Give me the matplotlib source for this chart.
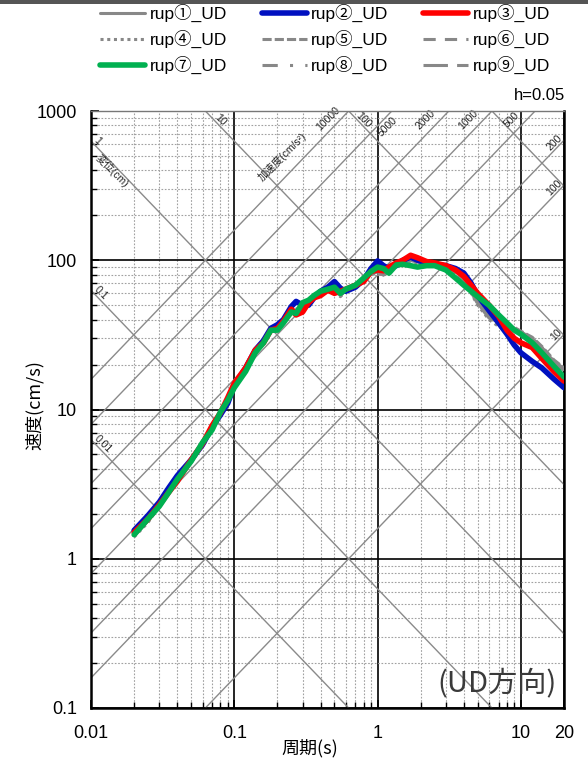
import numpy as np
import matplotlib
matplotlib.use("Agg")
import matplotlib.pyplot as plt
from matplotlib.ticker import LogLocator, NullFormatter, FixedLocator, FixedFormatter
from matplotlib.patches import Rectangle

plt.rcParams['font.family'] = ['Liberation Sans', 'Noto Sans CJK JP', 'DejaVu Sans']

# periods (s)
periods = [0.02, 0.025, 0.03, 0.035, 0.04, 0.05, 0.06, 0.07, 0.08, 0.09,
           0.1, 0.12, 0.14, 0.16, 0.18, 0.2, 0.22, 0.25, 0.27, 0.3,
           0.33, 0.36, 0.4, 0.45, 0.5, 0.55, 0.6, 0.7, 0.8, 0.9,
           1.0, 1.1, 1.2, 1.35, 1.5, 1.7, 1.9, 2.2, 2.5, 3.0,
           3.5, 4.0, 4.5, 5.0, 6.0, 7.0, 8.0, 9.0, 10, 12,
           14, 17, 20]

# pseudo velocity response (cm/s), h=0.05
rup1 = [1.45, 1.8, 2.3, 2.85, 3.4, 4.5, 5.9, 7.5, 9.4, 11.5,
        14.5, 19, 25, 29, 35, 36, 39, 47, 46, 48,
        52, 57, 60, 64, 63, 58, 63, 66, 73, 82,
        84, 80, 86, 94, 97, 100, 98, 96, 94, 90,
        84, 74, 62, 52, 42, 38, 37, 35, 33, 30,
        26, 21, 18.5]
rup2 = [1.55, 1.95, 2.4, 3.0, 3.6, 4.6, 5.8, 7.6, 9.2, 11,
        14.5, 19, 25, 29, 35, 37, 40, 49, 53, 50,
        50, 56, 62, 66, 72, 65, 62, 66, 74, 88,
        99, 92, 88, 92, 100, 105, 100, 96, 94, 92,
        88, 82, 70, 58, 46, 38, 32, 27, 24, 21,
        19, 16, 14]
rup3 = [1.5, 1.85, 2.3, 2.8, 3.3, 4.6, 5.9, 7.8, 9.5, 12,
        15, 19, 25, 28, 34, 35, 39, 47, 43, 45,
        52, 56, 58, 63, 60, 62, 64, 68, 72, 84,
        86, 85, 90, 96, 100, 108, 104, 98, 96, 92,
        86, 78, 68, 60, 50, 42, 34, 30, 28, 26,
        22, 18, 15.5]
rup4 = [1.4, 1.75, 2.25, 2.8, 3.35, 4.4, 5.8, 7.4, 9.3, 11.3,
        14, 18.5, 24, 28, 34, 35, 38, 46, 45, 47,
        51, 56, 59, 63, 62, 57, 62, 65, 72, 80,
        82, 79, 85, 92, 95, 98, 96, 95, 93, 89,
        82, 72, 60, 50, 40, 36, 36, 34, 32, 29,
        25, 20.5, 18]
rup5 = [1.5, 1.85, 2.35, 2.9, 3.45, 4.55, 6.0, 7.6, 9.5, 11.6,
        14.6, 19.2, 25.5, 29.5, 35.5, 36.5, 40, 48, 47, 49,
        53, 58, 61, 65, 64, 59, 64, 67, 74, 83,
        86, 82, 88, 95, 98, 101, 99, 97, 95, 91,
        85, 75, 63, 53, 43, 39, 37, 35.5, 33.5, 30.5,
        26.5, 21.5, 19]
rup6 = [1.42, 1.78, 2.28, 2.82, 3.38, 4.45, 5.85, 7.45, 9.35, 11.4,
        14.3, 18.8, 24.5, 28.5, 34.5, 35.5, 38.5, 46.5, 45.5, 47.5,
        51.5, 56.5, 59.5, 63.5, 62.5, 57.5, 62.5, 65.5, 72.5, 81,
        83, 79.5, 85.5, 93, 96, 99, 97, 95.5, 93.5, 89.5,
        83, 73, 61, 51, 41, 37, 36.5, 34.5, 32.5, 29.5,
        25.5, 21, 18.2]
rup7 = [1.45, 1.85, 2.25, 2.8, 3.4, 4.5, 6.0, 7.3, 9.6, 11.5,
        14.0, 18, 24, 28, 34, 34, 38, 45, 44, 52,
        54, 58, 62, 64, 66, 60, 64, 68, 76, 84,
        90, 88, 82, 93, 94, 92, 90, 92, 92, 86,
        76, 68, 62, 57, 50, 43, 38, 34, 32, 28,
        24, 19.5, 16.5]
rup8 = [1.47, 1.82, 2.32, 2.87, 3.42, 4.52, 5.95, 7.55, 9.45, 11.55,
        14.5, 19.1, 25.2, 29.2, 35.2, 36.2, 39.5, 47.5, 46.5, 48.5,
        52.5, 57.5, 60.5, 64.5, 63.5, 58.5, 63.5, 66.5, 73.5, 82.5,
        85, 81, 87, 94.5, 97.5, 100.5, 98.5, 96.5, 94.5, 90.5,
        84.5, 74.5, 62.5, 52.5, 42.5, 38.5, 37, 35, 33, 30,
        26, 21.2, 18.7]
rup9 = [1.44, 1.79, 2.29, 2.84, 3.39, 4.48, 5.88, 7.48, 9.38, 11.45,
        14.4, 18.9, 24.8, 28.8, 34.8, 35.8, 38.8, 46.8, 45.8, 47.8,
        51.8, 56.8, 59.8, 63.8, 62.8, 57.8, 62.8, 65.8, 72.8, 81.5,
        83.5, 80, 86, 93.5, 96.5, 99.5, 97.5, 95.8, 93.8, 89.8,
        83.5, 73.5, 61.5, 51.5, 41.5, 37.5, 36.8, 34.8, 32.8, 29.8,
        25.8, 20.8, 18.3]

series = [rup1, rup2, rup3, rup4, rup5, rup6, rup7, rup8, rup9]
labels = ['rup①_UD', 'rup②_UD', 'rup③_UD', 'rup④_UD', 'rup⑤_UD',
          'rup⑥_UD', 'rup⑦_UD', 'rup⑧_UD', 'rup⑨_UD']

gray = '#888888'
styles = [
    dict(color=gray, lw=2.2, ls='-', zorder=3),
    dict(color='#0010c0', lw=4, ls='-', zorder=4),
    dict(color='#ff0000', lw=4, ls='-', zorder=5),
    dict(color=gray, lw=2.2, ls=(0, (1, 1.2)), zorder=3),
    dict(color=gray, lw=2.2, ls=(0, (3, 1)), zorder=3),
    dict(color=gray, lw=2.2, ls=(0, (4, 3)), zorder=3),
    dict(color='#00b050', lw=4, ls='-', zorder=6),
    dict(color=gray, lw=2.2, ls=(0, (5, 4, 1, 4)), zorder=3),
    dict(color=gray, lw=2.2, ls=(0, (8, 3)), zorder=3),
]

# tripartite guide lines
disp_levels = [0.01, 0.1, 1, 10, 100, 1000]        # cm
acc_levels = [10, 100, 200, 500, 1000, 2000, 5000, 10000]   # cm/s2
disp_left_labels = ['0.01', '0.1', '1']
disp_top_labels = ['10', '100']
acc_top_labels = ['10000', '5000', '2000', '1000', '500']
acc_top_offset = [(-5, 5), (7, -1), (-7, 4), (-7, 4), (-7, 4)]
acc_right_labels = ['200', '100', '10']

fig = plt.figure(figsize=(5.88, 7.62), dpi=100)
ax = fig.add_axes([91/588, 1-708/762, 473/588, 597/762])
ax.set_xscale('log')
ax.set_yscale('log')
ax.set_xlim(0.01, 20)
ax.set_ylim(0.1, 1000)

tt = np.geomspace(0.005, 40, 200)
for d in disp_levels:
    ax.plot(tt, 2*np.pi*d/tt, color='#8a8a8a', lw=1.0, zorder=1)
for a in acc_levels:
    ax.plot(tt, a*tt/(2*np.pi), color='#8a8a8a', lw=1.0, zorder=1)

lab_kw = dict(fontsize=7.5, color='#222222', rotation_mode='anchor', zorder=2)
for s in disp_left_labels:
    d = float(s)
    t0 = 0.0102
    ax.text(t0, 2*np.pi*d/t0, s, rotation=-45, ha='left', va='bottom', **lab_kw)
ax.text(0.0118, 2*np.pi*1/0.0118, '変位(cm)', rotation=-45, ha='left', va='top', **lab_kw)
for s in disp_top_labels:
    d = float(s)
    v0 = 830
    ax.text(2*np.pi*d/v0, v0, s, rotation=-45, ha='center', va='bottom', **lab_kw)
for s, off in zip(acc_top_labels, acc_top_offset):
    a = float(s)
    v0 = 800
    ax.annotate(s, xy=(2*np.pi*v0/a, v0), xytext=off, textcoords='offset points',
                rotation=45, ha='center', va='center', **lab_kw)
for s in acc_right_labels:
    a = float(s)
    t0 = 20.0
    ax.text(t0, a*t0/(2*np.pi), s, rotation=45, ha='right', va='bottom', **lab_kw)
ax.annotate('加速度(cm/s²)', xy=(0.26, 10000*0.26/(2*np.pi)), xytext=(-8, 8),
            textcoords='offset points', rotation=45, ha='center', va='center',
            fontsize=7.5, color='#222222')

handles = []
for vals, lab, st in zip(series, labels, styles):
    h, = ax.plot(periods, vals, label=lab, solid_capstyle='round', **st)
    handles.append(h)

# grid
ax.grid(which='major', color='black', lw=1.2, ls='-', zorder=1)
ax.grid(which='minor', color='#a0a0a0', lw=0.8, ls=(0, (1.5, 1.5)), zorder=0)
ax.set_axisbelow(True)
ax.xaxis.set_minor_locator(LogLocator(base=10, subs=np.arange(2, 10)))
ax.yaxis.set_minor_locator(LogLocator(base=10, subs=np.arange(2, 10)))
ax.xaxis.set_minor_formatter(NullFormatter())
ax.yaxis.set_minor_formatter(NullFormatter())
ax.xaxis.set_major_locator(FixedLocator([0.01, 0.1, 1, 10, 20]))
ax.xaxis.set_major_formatter(FixedFormatter(['0.01', '0.1', '1', '10', '20']))
ax.yaxis.set_major_locator(FixedLocator([0.1, 1, 10, 100, 1000]))
ax.yaxis.set_major_formatter(FixedFormatter(['0.1', '1', '10', '100', '1000']))
ax.tick_params(which='both', direction='in', labelsize=13, top=False, right=False)
ax.tick_params(which='major', length=6, width=1.2)
ax.tick_params(which='minor', length=4, width=1.0)
ax.tick_params(axis='x', pad=12)
ax.tick_params(axis='y', pad=10)
for side in ['left', 'bottom', 'right']:
    ax.spines[side].set_linewidth(1.8)
ax.spines['top'].set_linewidth(1.0)
ax.spines['top'].set_color('#777777')

fig.text(35/588, 1-405/762, '速度(cm/s)', rotation=90, ha='center', va='center',
         fontsize=13, family=['Noto Sans CJK JP', 'DejaVu Sans'])
fig.text(310/588, 1-748/762, '周期(s)', ha='center', va='center',
         fontsize=13, family=['Noto Sans CJK JP', 'DejaVu Sans'])
fig.text(565/588, 1-95/762, 'h=0.05', ha='right', va='center', fontsize=12)
fig.text(497/588, 1-683/762, '(UD方向)', ha='center', va='center', fontsize=21,
         color='#3a3a3a', family=['Noto Sans CJK JP', 'DejaVu Sans'])

# legend is filled column by column, so reorder to read row by row
order = [0, 3, 6, 1, 4, 7, 2, 5, 8]
fig.legend(handles=[handles[i] for i in order], labels=[labels[i] for i in order],
           ncol=3, loc='upper left',
           bbox_to_anchor=(100/588, 1-4/762), frameon=False, fontsize=12.5,
           handlelength=2.6, handletextpad=0.25, columnspacing=2.0,
           labelspacing=0.45, borderpad=0, borderaxespad=0)

fig.patches.append(Rectangle((0, 1-4/762), 1, 4/762, transform=fig.transFigure,
                             facecolor='#555555', edgecolor='none'))

fig.savefig('out.png', dpi=100)
